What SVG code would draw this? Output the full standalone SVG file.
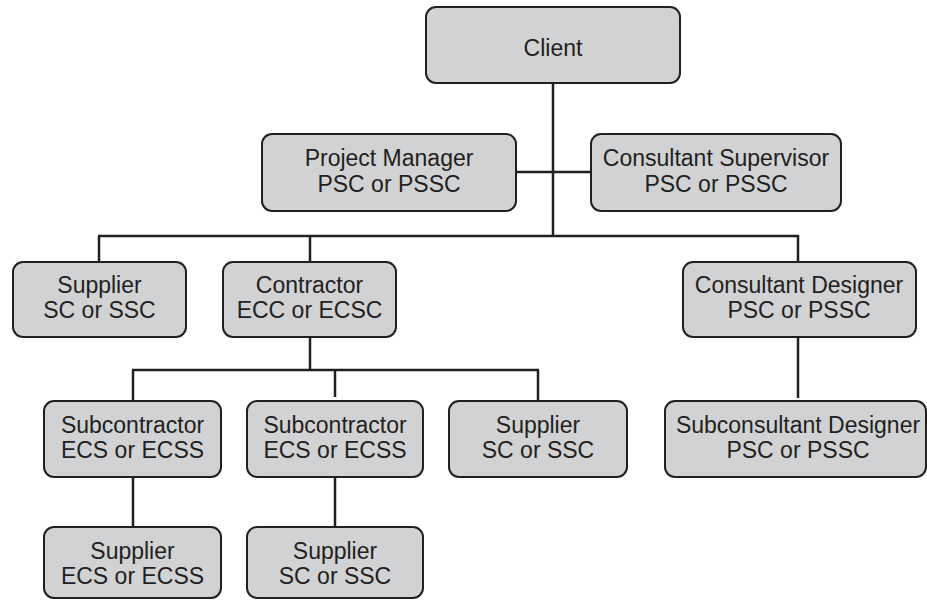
<svg xmlns="http://www.w3.org/2000/svg" width="927" height="600" viewBox="0 0 927 600">
<style>
.box{fill:#d1d2d4;stroke:#231f20;stroke-width:2}
.lbl{font-family:"Liberation Sans",Arial,sans-serif;font-size:23px;fill:#231f20;text-anchor:middle}
.conn line{stroke:#231f20;stroke-width:2.5;stroke-linecap:butt}
</style>
<rect width="927" height="600" fill="#ffffff"/>
<g id="connectors" class="conn">
<line x1="553" y1="83" x2="553" y2="237"/>
<line x1="516" y1="172" x2="591" y2="172"/>
<line x1="98" y1="236" x2="799" y2="236"/>
<line x1="99" y1="236" x2="99" y2="262"/>
<line x1="310" y1="236" x2="310" y2="262"/>
<line x1="798" y1="235" x2="798" y2="262"/>
<line x1="310" y1="337" x2="310" y2="370"/>
<line x1="132" y1="370" x2="539" y2="370"/>
<line x1="133" y1="370" x2="133" y2="401"/>
<line x1="335" y1="370" x2="335" y2="397"/>
<line x1="538" y1="370" x2="538" y2="401"/>
<line x1="133" y1="477" x2="133" y2="527"/>
<line x1="335" y1="477" x2="335" y2="527"/>
<line x1="798" y1="337" x2="798" y2="398"/>
</g>
<g id="client"><rect class="box" x="426" y="7" width="254" height="76" rx="10"/><text class="lbl" x="553" y="56">Client</text></g>
<g id="project-manager"><rect class="box" x="262" y="134" width="254" height="77" rx="10"/><text class="lbl" x="389" y="166">Project Manager</text><text class="lbl" x="389" y="192">PSC or PSSC</text></g>
<g id="consultant-supervisor"><rect class="box" x="591" y="134" width="250" height="77" rx="10"/><text class="lbl" x="716" y="166">Consultant Supervisor</text><text class="lbl" x="716" y="192">PSC or PSSC</text></g>
<g id="supplier-1"><rect class="box" x="13" y="262" width="173" height="75" rx="10"/><text class="lbl" x="99.5" y="293">Supplier</text><text class="lbl" x="99.5" y="318">SC or SSC</text></g>
<g id="contractor"><rect class="box" x="223" y="262" width="173" height="75" rx="10"/><text class="lbl" x="309.5" y="293">Contractor</text><text class="lbl" x="309.5" y="318">ECC or ECSC</text></g>
<g id="consultant-designer"><rect class="box" x="683" y="262" width="233" height="75" rx="10"/><text class="lbl" x="799" y="293">Consultant Designer</text><text class="lbl" x="799" y="318">PSC or PSSC</text></g>
<g id="subcontractor-1"><rect class="box" x="44" y="401" width="177" height="76" rx="10"/><text class="lbl" x="132.5" y="433">Subcontractor</text><text class="lbl" x="132.5" y="458">ECS or ECSS</text></g>
<g id="subcontractor-2"><rect class="box" x="247" y="401" width="176" height="76" rx="10"/><text class="lbl" x="335" y="433">Subcontractor</text><text class="lbl" x="335" y="458">ECS or ECSS</text></g>
<g id="supplier-2"><rect class="box" x="449" y="401" width="178" height="76" rx="10"/><text class="lbl" x="538" y="433">Supplier</text><text class="lbl" x="538" y="458">SC or SSC</text></g>
<g id="subconsultant-designer"><rect class="box" x="665" y="401" width="261" height="76" rx="10"/><text class="lbl" x="798" y="433">Subconsultant Designer</text><text class="lbl" x="798" y="458">PSC or PSSC</text></g>
<g id="supplier-3"><rect class="box" x="44" y="527" width="177" height="71" rx="10"/><text class="lbl" x="132.5" y="559">Supplier</text><text class="lbl" x="132.5" y="584">ECS or ECSS</text></g>
<g id="supplier-4"><rect class="box" x="247" y="527" width="176" height="71" rx="10"/><text class="lbl" x="335" y="559">Supplier</text><text class="lbl" x="335" y="584">SC or SSC</text></g>
</svg>
